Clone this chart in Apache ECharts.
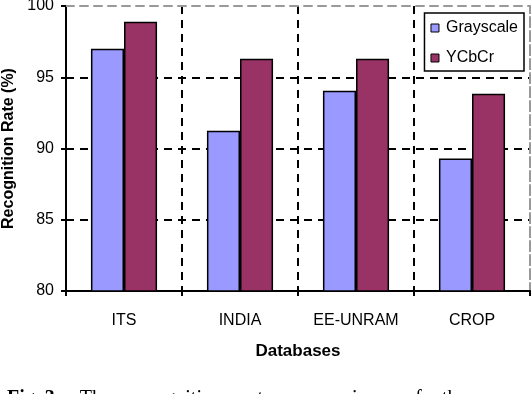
<!DOCTYPE html>
<html>
<head>
<meta charset="utf-8">
<script src="https://cdn.jsdelivr.net/npm/echarts@6/dist/echarts.min.js"></script>
<style>
  html, body { margin: 0; padding: 0; background: #fff; }
  #chart { width: 532px; height: 394px; }
</style>
</head>
<body>
<div id="chart"></div>
<script>
var databases = ['ITS', 'INDIA', 'EE-UNRAM', 'CROP'];
var grayscale = [97.0, 91.25, 94.05, 89.3];
var ycbcr = [98.9, 96.3, 96.3, 93.85];
var yTicks = [80, 85, 90, 95, 100];

var font = 'Liberation Sans, Arial, sans-serif';
var dash = [8, 6];

var option = {
    animation: false,
    backgroundColor: '#fff',
    grid: {left: 66, right: 2, top: 6, bottom: 103, outerBoundsMode: 'none', containLabel: false},
    legend: {
        orient: 'vertical',
        right: 8,
        top: 13,
        padding: [7, 6, 5, 6],
        itemGap: 14,
        itemWidth: 8,
        itemHeight: 8,
        icon: 'rect',
        borderColor: '#000',
        borderWidth: 1.5,
        backgroundColor: '#fff',
        itemStyle: {borderColor: '#000', borderWidth: 1},
        textStyle: {fontFamily: font, fontSize: 16, color: '#000', padding: [0, 0, 0, 2]},
        data: ['Grayscale', 'YCbCr']
    },
    xAxis: [{
        type: 'category',
        data: databases,
        name: 'Databases',
        nameLocation: 'middle',
        nameGap: 52,
        nameTextStyle: {fontFamily: font, fontSize: 17, fontWeight: 'bold', color: '#000'},
        axisLine: {lineStyle: {color: '#000', width: 2}},
        axisTick: {show: true, length: 5, lineStyle: {color: '#000', width: 2}},
        axisLabel: {fontFamily: font, fontSize: 16, color: '#000', margin: 22},
        splitLine: {show: true, lineStyle: {color: ['#000', '#000', '#000', '#000', '#999'], type: dash, width: 2}}
    }, {
        type: 'category',
        data: databases,
        position: 'top',
        axisLine: {lineStyle: {color: '#999', type: dash, width: 2}},
        axisTick: {show: false},
        axisLabel: {show: false}
    }],
    yAxis: [{
        type: 'value',
        min: yTicks[0],
        max: yTicks[yTicks.length - 1],
        interval: 5,
        name: 'Recognition Rate (%)',
        nameLocation: 'middle',
        nameGap: 43,
        nameTextStyle: {fontFamily: font, fontSize: 16, fontWeight: 'bold', color: '#000'},
        axisLine: {show: true, lineStyle: {color: '#000', width: 2}},
        axisTick: {show: true, length: 5, lineStyle: {color: '#000', width: 2}},
        axisLabel: {fontFamily: font, fontSize: 16, color: '#000', margin: 12},
        splitLine: {show: true, lineStyle: {color: ['#000', '#000', '#000', '#000', '#999'], type: dash, width: 2}}
    }, {
        type: 'value',
        position: 'right',
        min: yTicks[0],
        max: yTicks[yTicks.length - 1],
        interval: 5,
        axisLine: {show: true, lineStyle: {color: '#999', type: dash, width: 2}},
        axisTick: {show: false},
        axisLabel: {show: false},
        splitLine: {show: false}
    }],
    series: [{
        name: 'Grayscale',
        type: 'bar',
        data: grayscale,
        barGap: '0%',
        barCategoryGap: '43%',
        itemStyle: {color: '#9999ff', borderColor: '#000', borderWidth: 1.5}
    }, {
        name: 'YCbCr',
        type: 'bar',
        data: ycbcr,
        itemStyle: {color: '#993366', borderColor: '#000', borderWidth: 1.5}
    }],
    graphic: [{
        type: 'text',
        left: 7,
        top: 389,
        style: {
            text: '{b|Fig. 3.}    The    recognition    rate    comparison    of    the',
            fontFamily: 'Liberation Serif, Times New Roman, serif',
            fontSize: 20,
            fill: '#000',
            rich: {b: {fontWeight: 'bold', fontSize: 20, fontFamily: 'Liberation Serif, serif'}}
        }
    }]
};

var chart = echarts.init(document.getElementById('chart'), null, {renderer: 'canvas'});
chart.setOption(option);
</script>
</body>
</html>
